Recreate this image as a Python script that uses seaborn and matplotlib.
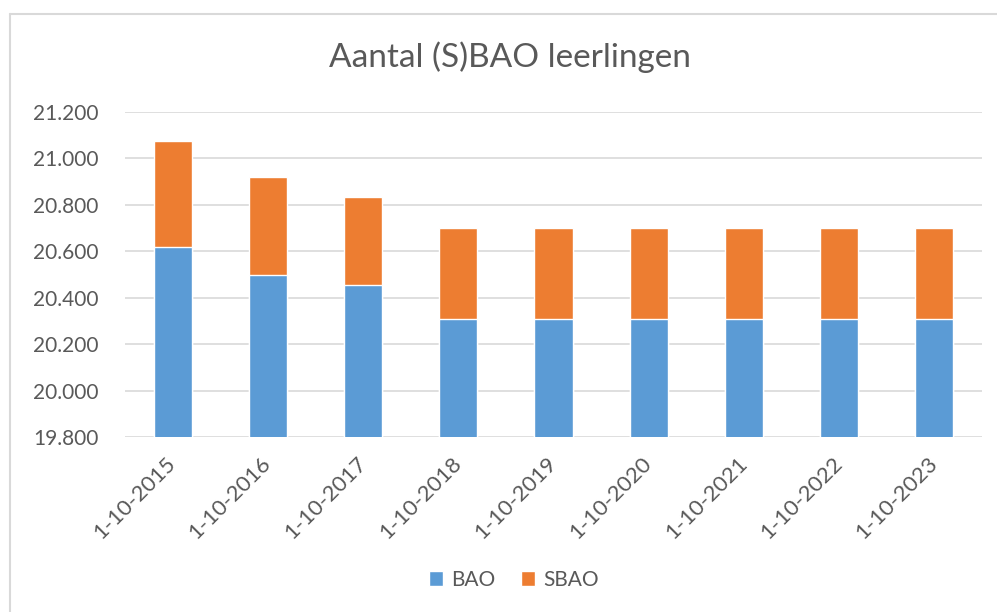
"""
Aantal (S)BAO leerlingen - stacked bar chart (BAO + SBAO per teldatum)
"""
import matplotlib
matplotlib.use("Agg")
import matplotlib.pyplot as plt
from matplotlib.lines import Line2D
from matplotlib.patches import Patch
from matplotlib.ticker import FuncFormatter, MultipleLocator
import seaborn as sns
import pandas as pd

# ========== Data ==========
dates = ["1-10-2015", "1-10-2016", "1-10-2017", "1-10-2018", "1-10-2019",
         "1-10-2020", "1-10-2021", "1-10-2022", "1-10-2023"]
bao = [20617, 20496, 20453, 20307, 20307, 20307, 20307, 20307, 20307]
sbao = [457, 424, 381, 392, 392, 392, 392, 392, 392]

df = pd.DataFrame({"datum": dates, "BAO": bao, "SBAO": sbao})
df["totaal"] = df["BAO"] + df["SBAO"]

# ========== Style ==========
BLUE = "#5B9BD5"
ORANGE = "#ED7D31"
TEXT = "#595959"
GRID = "#D9D9D9"

sns.set_style("white")
plt.rcParams["font.family"] = ["Lato", "DejaVu Sans"]

W, H = 997, 612
fig = plt.figure(figsize=(W / 100, H / 100), dpi=100)
ax = fig.add_axes([125 / W, 1 - 437 / H, (982 - 125) / W, (437 - 112) / H])

# stacked: total (orange) first, BAO (blue) on top of it
sns.barplot(data=df, x="datum", y="totaal", color=ORANGE, width=0.4,
            saturation=1, ax=ax, zorder=2)
sns.barplot(data=df, x="datum", y="BAO", color=BLUE, width=0.4,
            saturation=1, ax=ax, zorder=3)

ax.set_ylim(19800, 21200)
ax.yaxis.set_major_locator(MultipleLocator(200))
ax.yaxis.set_major_formatter(FuncFormatter(lambda v, p: f"{v:,.0f}".replace(",", ".")))
ax.set_xlim(-0.5, len(dates) - 0.5)
ax.grid(axis="y", color=GRID, linewidth=1.2, zorder=0)
ax.set_axisbelow(True)
for s in ax.spines.values():
    s.set_visible(False)
ax.set_xlabel("")
ax.set_ylabel("")

ax.tick_params(axis="y", length=0, pad=19, labelsize=15, labelcolor=TEXT)
ax.tick_params(axis="x", length=0, pad=17, labelsize=16, labelcolor=TEXT)
for lbl in ax.get_xticklabels():
    lbl.set_rotation(45)
    lbl.set_ha("right")
    lbl.set_va("center")
    lbl.set_rotation_mode("anchor")

# title
fig.text(510 / W, 1 - 57 / H, "Aantal (S)BAO leerlingen", ha="center", va="center",
         fontsize=24, color=TEXT)

# legend
handles = [Patch(facecolor=BLUE, label="BAO"), Patch(facecolor=ORANGE, label="SBAO")]
fig.legend(handles=handles, loc="center", bbox_to_anchor=(514 / W, 1 - 580 / H),
           ncol=2, frameon=False, fontsize=15, labelcolor=TEXT,
           handlelength=0.7, handleheight=0.7, handletextpad=0.4, columnspacing=1.2)

# chart border (left and top edge visible)
fig.add_artist(Line2D([10 / W, 10 / W], [0, 1 - 14 / H], transform=fig.transFigure,
                      color=GRID, linewidth=1.5))
fig.add_artist(Line2D([10 / W, 1], [1 - 14 / H, 1 - 14 / H], transform=fig.transFigure,
                      color=GRID, linewidth=1.5))

fig.savefig("out.png", dpi=100)
plt.close(fig)
